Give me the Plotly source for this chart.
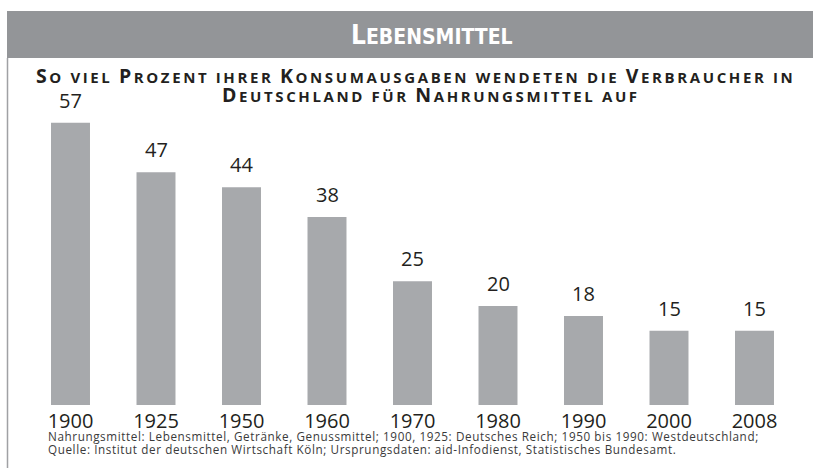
import plotly.graph_objects as go

years = ["1900", "1925", "1950", "1960", "1970", "1980", "1990", "2000", "2008"]
shares = [57, 47, 44, 38, 25, 20, 18, 15, 15]

header = "Lebensmittel"
subtitle_1 = "So viel Prozent ihrer Konsumausgaben wendeten die Verbraucher in"
subtitle_2 = "Deutschland für Nahrungsmittel auf"
footnote_1 = "Nahrungsmittel: Lebensmittel, Getränke, Genussmittel; 1900, 1925: Deutsches Reich; 1950 bis 1990: Westdeutschland;"
footnote_2 = "Quelle: Institut der deutschen Wirtschaft Köln; Ursprungsdaten: aid-Infodienst, Statistisches Bundesamt."

W, H = 813, 468
BAR = "#a7a9ac"
BAND = "#939598"
INK = "#231f20"

pos = list(range(len(years)))


def smallcaps(text, big, small, spacing=0.0):
    ls = f";letter-spacing:{spacing}px" if spacing else ""
    out = []
    for ch in text:
        if ch.isupper():
            out.append(f"<span style='font-size:{big}px{ls}'>{ch}</span>")
        elif ch == " ":
            out.append(f"<span style='font-size:{small}px{ls}'> </span>")
        else:
            out.append(f"<span style='font-size:{small}px{ls}'>{ch.upper()}</span>")
    return "".join(out)


def spaced(text, spacing):
    return f"<span style='letter-spacing:{spacing}px'>{text}</span>"


def py(px):
    return 1 - px / H


fig = go.Figure()
fig.add_trace(go.Bar(x=pos, y=shares, width=0.456,
                     marker=dict(color=BAR, line=dict(width=0)), hoverinfo="skip"))

annotations = []
for p, v in zip(pos, shares):
    annotations.append(dict(x=p, y=v, xref="x", yref="y", text=str(v), showarrow=False,
                            yanchor="bottom", yshift=7,
                            font=dict(family="Open Sans", size=20, color=INK)))

shapes = [
    dict(type="rect", xref="paper", yref="paper", x0=7 / W, x1=1, y0=py(58), y1=py(11),
         fillcolor=BAND, line=dict(width=0), layer="below"),
    dict(type="line", xref="paper", yref="paper", x0=7.5 / W, x1=7.5 / W, y0=0, y1=py(58),
         line=dict(color="#a0a1a4", width=1.5)),
]

annotations += [
    dict(xref="paper", yref="paper", x=432 / W, y=py(35), text="<b>" + smallcaps(header, 26, 21) + "</b>",
         showarrow=False, xanchor="center", yanchor="middle",
         font=dict(family="DejaVu Sans Condensed", size=21, color="white")),
    dict(xref="paper", yref="paper", x=416 / W, y=py(76), text=smallcaps(subtitle_1, 19.5, 15, 2.6),
         showarrow=False, xanchor="center", yanchor="middle",
         font=dict(family="Open Sans", size=15, color=INK, weight=700)),
    dict(xref="paper", yref="paper", x=431 / W, y=py(94.5), text=smallcaps(subtitle_2, 19.5, 15, 2.6),
         showarrow=False, xanchor="center", yanchor="middle",
         font=dict(family="Open Sans", size=15, color=INK, weight=700)),
    dict(xref="paper", yref="paper", x=46 / W, y=py(436), text=spaced(footnote_1, 0.6),
         showarrow=False, xanchor="left", yanchor="middle",
         font=dict(family="Open Sans", size=11.7, color="#3a3a3a")),
    dict(xref="paper", yref="paper", x=46 / W, y=py(449), text=spaced(footnote_2, 0.6),
         showarrow=False, xanchor="left", yanchor="middle",
         font=dict(family="Open Sans", size=11.7, color="#3a3a3a")),
]

fig.update_layout(
    width=W, height=H,
    margin=dict(l=0, r=0, t=0, b=0, autoexpand=False),
    paper_bgcolor="white", plot_bgcolor="white",
    showlegend=False,
    shapes=shapes,
    annotations=annotations,
    xaxis=dict(domain=[27.75 / W, 797.25 / W], range=[-0.5, len(years) - 0.5],
               tickmode="array", tickvals=pos, ticktext=years,
               showgrid=False, zeroline=False, showline=False, ticks="",
               ticklabelstandoff=2,
               tickfont=dict(family="Open Sans", size=20, color=INK)),
    yaxis=dict(domain=[63 / H, py(108)], range=[0, 60], visible=False),
)

fig.write_html("out.html", config={"displayModeBar": False},
               post_script="document.body.style.margin='0';document.body.style.overflow='hidden';")
